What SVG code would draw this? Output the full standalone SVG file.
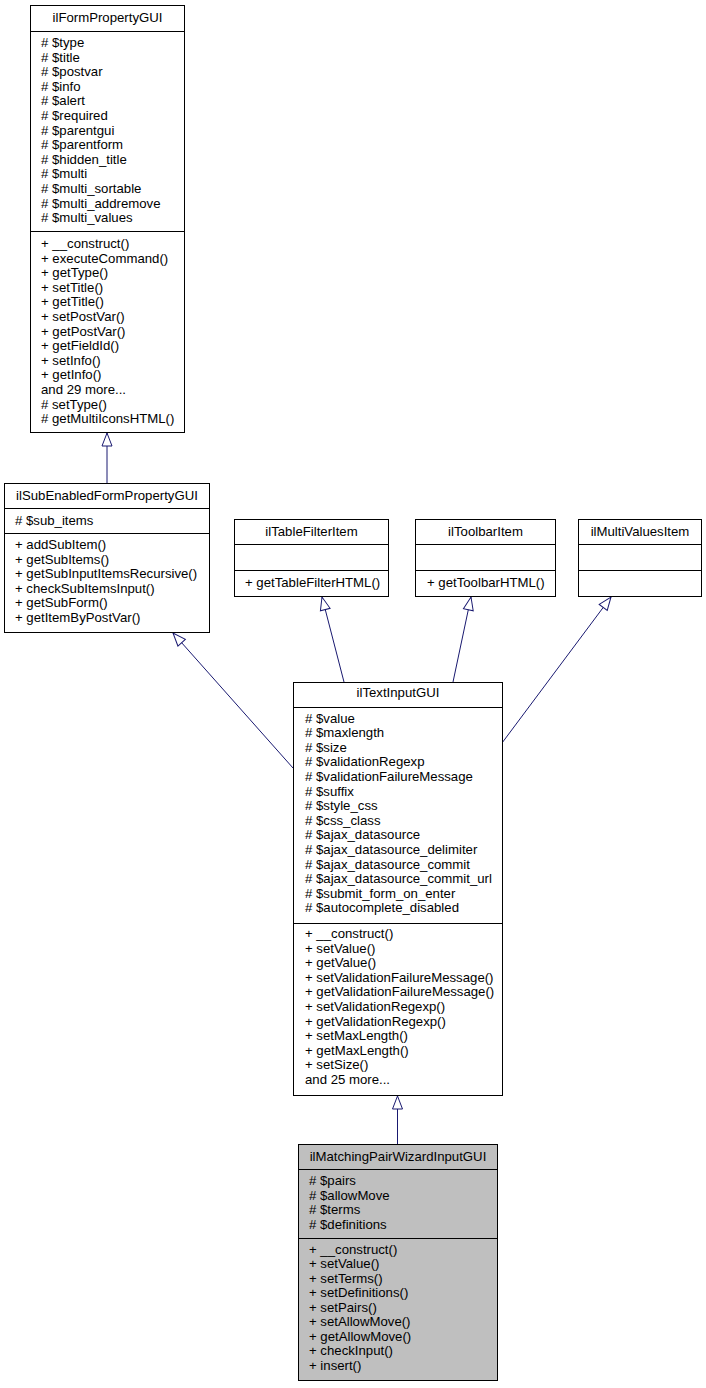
<svg xmlns="http://www.w3.org/2000/svg" width="706" height="1388" viewBox="0 0 706 1388">
<style>
.box{fill:#fff;stroke:#000;stroke-width:1}
.cur{fill:#bfbfbf;stroke:#000;stroke-width:1}
.sep{stroke:#000;stroke-width:1}
text{font-family:"Liberation Sans",Arial,Helvetica,sans-serif;font-size:13.2px;fill:#000}
.t{text-anchor:middle}
.edge{stroke:#191970;stroke-width:1;fill:none;marker-end:url(#inh)}
</style>
<defs>
<marker id="inh" markerUnits="userSpaceOnUse" orient="auto" refX="13" refY="0" markerWidth="14" markerHeight="12" overflow="visible">
<path d="M0,-5 L13,0 L0,5 Z" fill="#fff" stroke="#191970" stroke-width="1"/>
</marker>
</defs>
<rect width="706" height="1388" fill="#fff"/>
<g id="connectors">
<line class="edge" x1="107" y1="483" x2="107" y2="433"/>
<line class="edge" x1="293" y1="768" x2="173" y2="633"/>
<line class="edge" x1="344" y1="682" x2="322" y2="597"/>
<line class="edge" x1="453" y1="682" x2="471" y2="597"/>
<line class="edge" x1="502" y1="743" x2="611" y2="597"/>
<line class="edge" x1="397.5" y1="1144" x2="397.5" y2="1096"/>
</g>
<g id="ilFormPropertyGUI">
<rect class="box" x="30.5" y="5.5" width="154" height="427"/>
<line class="sep" x1="30.5" y1="31.5" x2="184.5" y2="31.5"/>
<line class="sep" x1="30.5" y1="231.5" x2="184.5" y2="231.5"/>
<text class="t" x="107.5" y="22">ilFormPropertyGUI</text>
<text x="41" y="47"># $type</text>
<text x="41" y="61.6"># $title</text>
<text x="41" y="76.2"># $postvar</text>
<text x="41" y="90.8"># $info</text>
<text x="41" y="105.4"># $alert</text>
<text x="41" y="120"># $required</text>
<text x="41" y="134.6"># $parentgui</text>
<text x="41" y="149.2"># $parentform</text>
<text x="41" y="163.8"># $hidden_title</text>
<text x="41" y="178.4"># $multi</text>
<text x="41" y="193"># $multi_sortable</text>
<text x="41" y="207.6"># $multi_addremove</text>
<text x="41" y="222.2"># $multi_values</text>
<text x="41" y="248">+ __construct()</text>
<text x="41" y="262.6">+ executeCommand()</text>
<text x="41" y="277.2">+ getType()</text>
<text x="41" y="291.8">+ setTitle()</text>
<text x="41" y="306.4">+ getTitle()</text>
<text x="41" y="321">+ setPostVar()</text>
<text x="41" y="335.6">+ getPostVar()</text>
<text x="41" y="350.2">+ getFieldId()</text>
<text x="41" y="364.8">+ setInfo()</text>
<text x="41" y="379.4">+ getInfo()</text>
<text x="41" y="394">and 29 more...</text>
<text x="41" y="408.6"># setType()</text>
<text x="41" y="423.2"># getMultiIconsHTML()</text>
</g>
<g id="ilSubEnabledFormPropertyGUI">
<rect class="box" x="4.5" y="483.5" width="205" height="149"/>
<line class="sep" x1="4.5" y1="508.5" x2="209.5" y2="508.5"/>
<line class="sep" x1="4.5" y1="533.5" x2="209.5" y2="533.5"/>
<text class="t" x="107" y="499.5">ilSubEnabledFormPropertyGUI</text>
<text x="15" y="524.5"># $sub_items</text>
<text x="15" y="549">+ addSubItem()</text>
<text x="15" y="563.6">+ getSubItems()</text>
<text x="15" y="578.2">+ getSubInputItemsRecursive()</text>
<text x="15" y="592.8">+ checkSubItemsInput()</text>
<text x="15" y="607.4">+ getSubForm()</text>
<text x="15" y="622">+ getItemByPostVar()</text>
</g>
<g id="ilTableFilterItem">
<rect class="box" x="234.5" y="519.5" width="154" height="77"/>
<line class="sep" x1="234.5" y1="544.5" x2="388.5" y2="544.5"/>
<line class="sep" x1="234.5" y1="570.5" x2="388.5" y2="570.5"/>
<text class="t" x="311.5" y="536">ilTableFilterItem</text>
<text x="245" y="586.5">+ getTableFilterHTML()</text>
</g>
<g id="ilToolbarItem">
<rect class="box" x="415.5" y="519.5" width="140" height="77"/>
<line class="sep" x1="415.5" y1="544.5" x2="555.5" y2="544.5"/>
<line class="sep" x1="415.5" y1="570.5" x2="555.5" y2="570.5"/>
<text class="t" x="485.5" y="536">ilToolbarItem</text>
<text x="427" y="586.5">+ getToolbarHTML()</text>
</g>
<g id="ilMultiValuesItem">
<rect class="box" x="578.5" y="519.5" width="123" height="77"/>
<line class="sep" x1="578.5" y1="544.5" x2="701.5" y2="544.5"/>
<line class="sep" x1="578.5" y1="570.5" x2="701.5" y2="570.5"/>
<text class="t" x="640" y="536">ilMultiValuesItem</text>
</g>
<g id="ilTextInputGUI">
<rect class="box" x="293.5" y="682.5" width="209" height="413"/>
<line class="sep" x1="293.5" y1="707.5" x2="502.5" y2="707.5"/>
<line class="sep" x1="293.5" y1="923.5" x2="502.5" y2="923.5"/>
<text class="t" x="398" y="697">ilTextInputGUI</text>
<text x="305" y="722.5"># $value</text>
<text x="305" y="737.1"># $maxlength</text>
<text x="305" y="751.7"># $size</text>
<text x="305" y="766.3"># $validationRegexp</text>
<text x="305" y="780.9"># $validationFailureMessage</text>
<text x="305" y="795.5"># $suffix</text>
<text x="305" y="810.1"># $style_css</text>
<text x="305" y="824.7"># $css_class</text>
<text x="305" y="839.3"># $ajax_datasource</text>
<text x="305" y="853.9"># $ajax_datasource_delimiter</text>
<text x="305" y="868.5"># $ajax_datasource_commit</text>
<text x="305" y="883.1"># $ajax_datasource_commit_url</text>
<text x="305" y="897.7"># $submit_form_on_enter</text>
<text x="305" y="912.3"># $autocomplete_disabled</text>
<text x="305" y="938">+ __construct()</text>
<text x="305" y="952.6">+ setValue()</text>
<text x="305" y="967.2">+ getValue()</text>
<text x="305" y="981.8">+ setValidationFailureMessage()</text>
<text x="305" y="996.4">+ getValidationFailureMessage()</text>
<text x="305" y="1011">+ setValidationRegexp()</text>
<text x="305" y="1025.6">+ getValidationRegexp()</text>
<text x="305" y="1040.2">+ setMaxLength()</text>
<text x="305" y="1054.8">+ getMaxLength()</text>
<text x="305" y="1069.4">+ setSize()</text>
<text x="305" y="1084">and 25 more...</text>
</g>
<g id="ilMatchingPairWizardInputGUI">
<rect class="cur" x="298.5" y="1144.5" width="199" height="236"/>
<line class="sep" x1="298.5" y1="1169.5" x2="497.5" y2="1169.5"/>
<line class="sep" x1="298.5" y1="1238.5" x2="497.5" y2="1238.5"/>
<text class="t" x="398" y="1161">ilMatchingPairWizardInputGUI</text>
<text x="309" y="1185"># $pairs</text>
<text x="309" y="1199.6"># $allowMove</text>
<text x="309" y="1214.2"># $terms</text>
<text x="309" y="1228.8"># $definitions</text>
<text x="309" y="1253.5">+ __construct()</text>
<text x="309" y="1268">+ setValue()</text>
<text x="309" y="1282.5">+ setTerms()</text>
<text x="309" y="1297">+ setDefinitions()</text>
<text x="309" y="1311.5">+ setPairs()</text>
<text x="309" y="1326">+ setAllowMove()</text>
<text x="309" y="1340.5">+ getAllowMove()</text>
<text x="309" y="1355">+ checkInput()</text>
<text x="309" y="1369.5">+ insert()</text>
</g>
</svg>
